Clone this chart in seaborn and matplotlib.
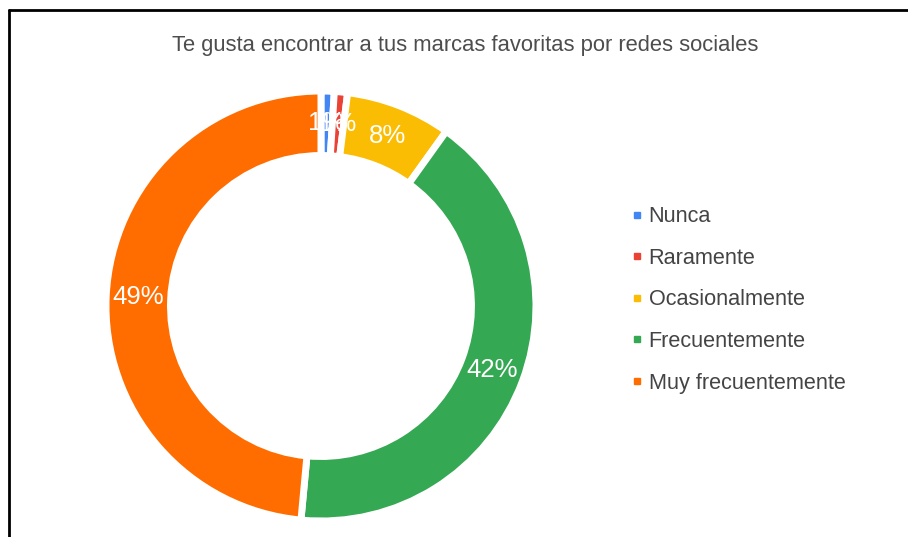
import matplotlib
matplotlib.use('Agg')
import matplotlib.pyplot as plt
from matplotlib.lines import Line2D
import seaborn as sns

# Data
categories = ['Nunca', 'Raramente', 'Ocasionalmente', 'Frecuentemente', 'Muy frecuentemente']
values = [1, 1, 8, 42, 49]
colors = ['#4285F4', '#EA4335', '#FBBC04', '#34A853', '#FF6D01']
title = 'Te gusta encontrar a tus marcas favoritas por redes sociales'

sns.set_theme(style='white')
plt.rcParams['font.family'] = ['Liberation Sans', 'DejaVu Sans']

palette = sns.color_palette(colors)

fig = plt.figure(figsize=(9.08, 5.37), dpi=100)
fig.patch.set_facecolor('white')

# Donut axes: centre ~ (321, 306) px, radius ~215 px
ax = fig.add_axes([0.1167, 0.0298, 0.4736, 0.8007])
wedges, texts, autotexts = ax.pie(
    values,
    colors=palette,
    startangle=90,
    counterclock=False,
    radius=1,
    autopct='%1.0f%%',
    pctdistance=0.85,
    wedgeprops=dict(width=0.3, edgecolor='white', linewidth=5),
    textprops=dict(color='white', fontsize=18.5),
)
ax.set_xlim(-1.0, 1.0)
ax.set_ylim(-1.0, 1.0)
ax.set_aspect('equal')
ax.axis('off')

fig.text(0.512, 0.916, title, ha='center', va='center', fontsize=15.8, color='#4d4d4d')

# Legend
handles = [Line2D([0], [0], marker='s', linestyle='', markersize=4.5,
                  markerfacecolor=c, markeredgecolor=c) for c in palette]
leg = fig.legend(handles, categories, loc='upper left', bbox_to_anchor=(0.694, 0.616),
                 frameon=False, fontsize=15.6, handlelength=0.6, handletextpad=0.25,
                 labelspacing=0.95, borderaxespad=0, borderpad=0)
for t in leg.get_texts():
    t.set_color('#444444')

# Frame lines (top and left)
fig.add_artist(Line2D([9 / 908, 1], [1 - 10 / 537, 1 - 10 / 537], color='black', linewidth=2,
                      transform=fig.transFigure))
fig.add_artist(Line2D([9 / 908, 9 / 908], [0, 1 - 10 / 537], color='black', linewidth=2,
                      transform=fig.transFigure))

fig.savefig('out.png', dpi=100)
